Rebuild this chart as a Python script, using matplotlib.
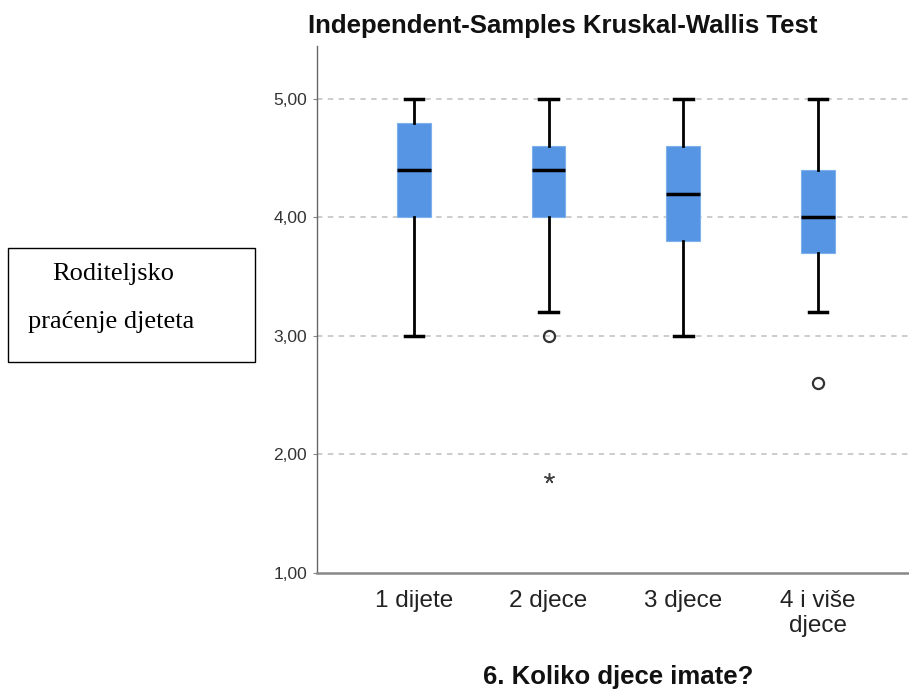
import matplotlib
matplotlib.use("Agg")
import matplotlib.pyplot as plt
from matplotlib.patches import Rectangle

categories = ["1 dijete", "2 djece", "3 djece", "4 i više\ndjece"]
q1 = [4.0, 4.0, 3.8, 3.7]
medians = [4.4, 4.4, 4.2, 4.0]
q3 = [4.8, 4.6, 4.6, 4.4]
whisker_low = [3.0, 3.2, 3.0, 3.2]
whisker_high = [5.0, 5.0, 5.0, 5.0]
outliers = [[], [3.0], [], [2.6]]
extremes = [[], [1.8], [], []]
yticks = [1.0, 2.0, 3.0, 4.0, 5.0]
ytick_labels = ["1,00", "2,00", "3,00", "4,00", "5,00"]

plt.rcParams['font.family'] = ['Liberation Sans', 'DejaVu Sans']

fig = plt.figure(figsize=(9.09, 6.91), dpi=100)
ax = fig.add_axes([0.3487, 0.1708, 0.6513, 0.7626])

stats = []
for i, c in enumerate(categories):
    stats.append(dict(q1=q1[i], med=medians[i], q3=q3[i],
                      whislo=whisker_low[i], whishi=whisker_high[i],
                      fliers=outliers[i], label=c))
pos = list(range(len(categories)))
ax.bxp(stats, positions=pos, widths=0.25, capwidths=0.14, patch_artist=True,
       boxprops=dict(facecolor="#5595e4", edgecolor="#7eb0ec", linewidth=0.8),
       medianprops=dict(color="black", linewidth=2.5),
       whiskerprops=dict(color="black", linewidth=2.0),
       capprops=dict(color="black", linewidth=2.5),
       flierprops=dict(marker="o", markerfacecolor="none", markeredgecolor="#333333",
                       markersize=8, markeredgewidth=1.6),
       zorder=3)
for i, ex in enumerate(extremes):
    if ex:
        ax.plot([pos[i]] * len(ex), ex, linestyle="none", marker=(5, 2, 0),
                color="#444444", markersize=7.5, markeredgewidth=1.1, zorder=4)

ax.set_xlim(-0.72, 3.676)
ax.set_ylim(1.0, 5.447)
ax.set_yticks(yticks)
ax.set_yticklabels(ytick_labels, fontsize=12.5, color="#333333")
ax.set_xticks(pos)
ax.set_xticklabels(categories, fontsize=17.5, color="#222222", linespacing=1.2)
ax.tick_params(axis="x", length=0, pad=12)
ax.tick_params(axis="y", length=3, color="#888888", pad=4)

for y in yticks[1:]:
    ax.axhline(y, color="#c8c8c8", linestyle=(0, (3, 3)), linewidth=1.3, zorder=1)

for s in ["top", "right"]:
    ax.spines[s].set_visible(False)
ax.spines["left"].set_color("#666666")
ax.spines["left"].set_linewidth(1.0)
ax.spines["bottom"].set_color("#888888")
ax.spines["bottom"].set_linewidth(1.8)

fig.text(0.619, 0.963, "Independent-Samples Kruskal-Wallis Test", ha="center", va="center",
         fontsize=18.5, fontweight="bold", color="#111111")
fig.text(0.680, 1 - 677 / 691, "6. Koliko djece imate?", ha="center", va="center",
         fontsize=18.5, fontweight="bold", color="#111111")

rect = Rectangle((8 / 909, 1 - 362 / 691), 247 / 909, 114 / 691, transform=fig.transFigure,
                 fill=False, edgecolor="black", linewidth=1.0)
fig.patches.append(rect)
fig.text(113 / 909, 1 - 274 / 691, "Roditeljsko", ha="center", va="center",
         fontsize=19, family=["Liberation Serif", "DejaVu Serif"], color="black")
fig.text(111 / 909, 1 - 322 / 691, "praćenje djeteta", ha="center", va="center",
         fontsize=19, family=["Liberation Serif", "DejaVu Serif"], color="black")

fig.savefig("out.png", dpi=100)
